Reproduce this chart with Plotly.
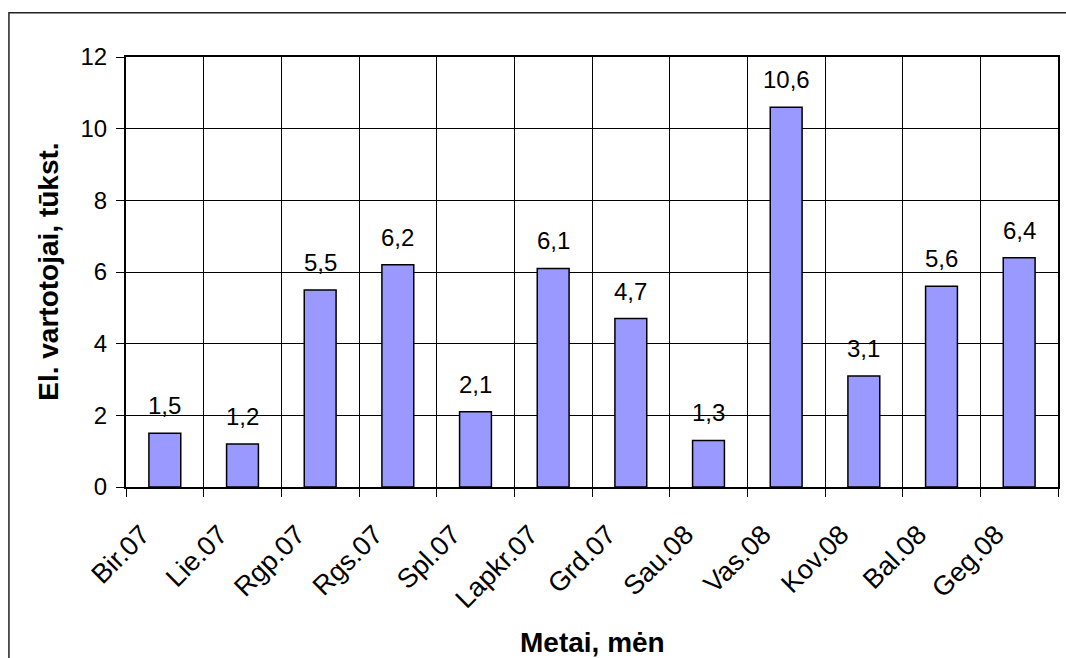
import plotly.graph_objects as go

# Monthly new electricity consumers, thousands
months = ["Bir.07", "Lie.07", "Rgp.07", "Rgs.07", "Spl.07", "Lapkr.07",
          "Grd.07", "Sau.08", "Vas.08", "Kov.08", "Bal.08", "Geg.08"]
consumers = [1.5, 1.2, 5.5, 6.2, 2.1, 6.1, 4.7, 1.3, 10.6, 3.1, 5.6, 6.4]
y_ticks = [0, 2, 4, 6, 8, 10, 12]

FONT = "Liberation Sans, Arial, sans-serif"

fig = go.Figure()
fig.add_trace(go.Bar(
    x=months,
    y=consumers,
    marker=dict(color="#9999FF", line=dict(color="black", width=1.5)),
    hoverinfo="x+y",
))

# value labels above bars, decimal comma
annotations = [
    dict(x=m, y=v, xref="x", yref="y",
         text=f"{v:.1f}".replace(".", ","),
         showarrow=False, yanchor="bottom", yshift=12,
         font=dict(family=FONT, size=24, color="black"))
    for m, v in zip(months, consumers)
]

# axis titles
annotations.append(dict(
    x=-0.084, y=0.5, xref="paper", yref="paper",
    text="<b>El. vartotojai, tūkst.</b>", textangle=-90,
    showarrow=False, xanchor="center", yanchor="middle",
    font=dict(family=FONT, size=28, color="black")))
annotations.append(dict(
    x=0.5, y=-0.361, xref="paper", yref="paper",
    text="<b>Metai, mėn</b>",
    showarrow=False, xanchor="center", yanchor="middle",
    font=dict(family=FONT, size=28, color="black")))

fig.update_layout(
    width=1066, height=658,
    margin=dict(l=126, r=6, t=57, b=171),
    paper_bgcolor="white",
    plot_bgcolor="white",
    bargap=0.59,
    showlegend=False,
    annotations=annotations,
    shapes=[dict(type="rect", xref="paper", yref="paper",
                 x0=-0.1256, x1=1.012, y0=-0.45, y1=1.103,
                 line=dict(color="#222222", width=1.5))],
    font=dict(family=FONT, color="black"),
)

fig.update_xaxes(
    type="category",
    tickson="boundaries",
    ticks="outside", ticklen=8, tickcolor="black", tickwidth=1,
    tickangle=-45,
    ticklabelstandoff=19, ticklabelshift=-23,
    tickfont=dict(family=FONT, size=27, color="black"),
    showgrid=True, gridcolor="black", gridwidth=1,
    showline=True, linecolor="black", linewidth=2, mirror=True,
    range=[-0.5, 11.5],
)

fig.update_yaxes(
    range=[0, 12],
    tickvals=y_ticks,
    ticks="outside", ticklen=8, tickcolor="black", tickwidth=1,
    ticklabelstandoff=4,
    tickfont=dict(family=FONT, size=24, color="black"),
    showgrid=True, gridcolor="black", gridwidth=1,
    zeroline=False,
    showline=True, linecolor="black", linewidth=2, mirror=True,
)

fig.write_html("out.html")
